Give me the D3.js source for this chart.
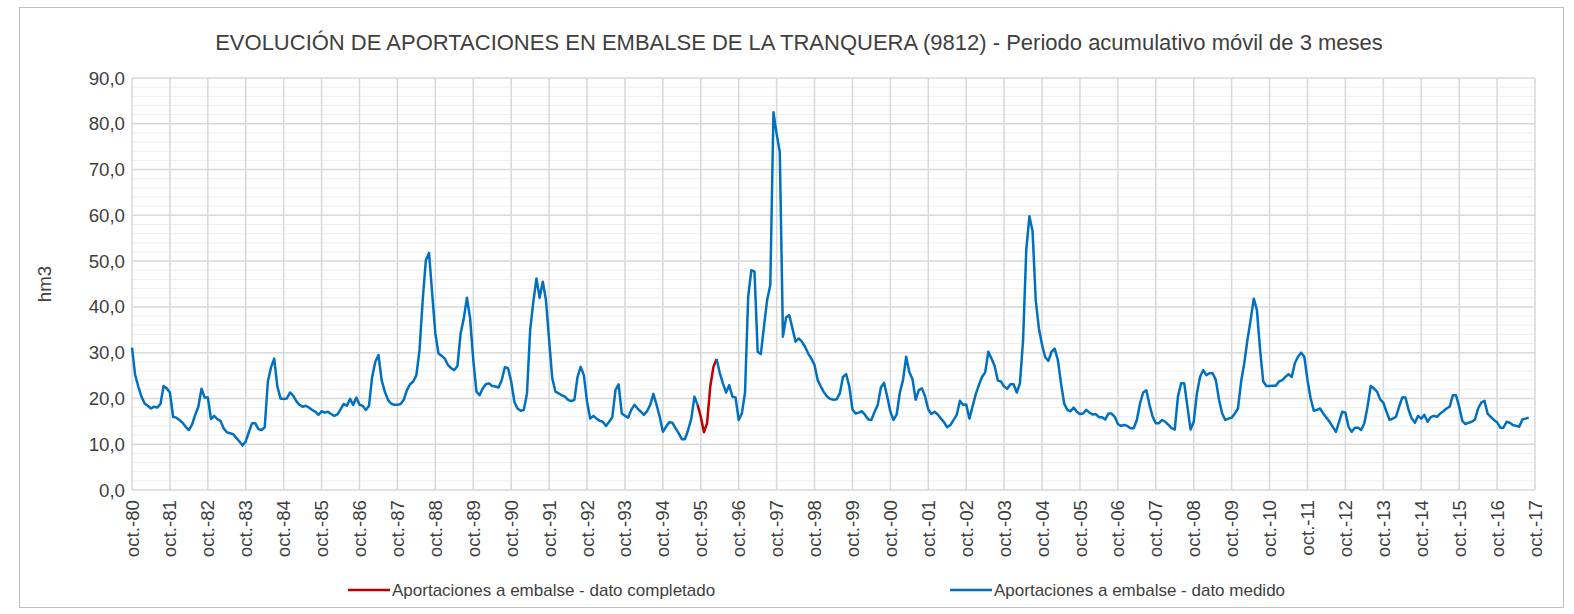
<!DOCTYPE html>
<html lang="es">
<head>
<meta charset="utf-8">
<title>Aportaciones embalse de La Tranquera</title>
<script type="text/javascript" src="https://cdnjs.cloudflare.com/ajax/libs/d3/7.8.5/d3.min.js"></script>
<style>
body { margin: 0; background: #fff; }
svg { display: block; font-family: Arial, "Liberation Sans", sans-serif; }
.grid-major line { stroke: #d9d9d9; stroke-width: 1.5; }
.grid-minor line { stroke: #eeeeee; stroke-width: 1; }
.axis text { fill: #404040; }
</style>
</head>
<body>
<div id="chart"></div>
<script type="text/javascript">

var titulo = "EVOLUCIÓN DE APORTACIONES EN EMBALSE DE LA TRANQUERA (9812) - Periodo acumulativo móvil de 3 meses";

// tick labels, one per hydrological year (every 12 months)
var etiquetasX = ["oct.-80","oct.-81","oct.-82","oct.-83","oct.-84","oct.-85","oct.-86","oct.-87",
    "oct.-88","oct.-89","oct.-90","oct.-91","oct.-92","oct.-93","oct.-94","oct.-95","oct.-96",
    "oct.-97","oct.-98","oct.-99","oct.-00","oct.-01","oct.-02","oct.-03","oct.-04","oct.-05",
    "oct.-06","oct.-07","oct.-08","oct.-09","oct.-10","oct.-11","oct.-12","oct.-13","oct.-14",
    "oct.-15","oct.-16","oct.-17"];

var ticksY = [0, 10, 20, 30, 40, 50, 60, 70, 80, 90];

// monthly values (hm3), from oct-80 onwards, one row per hydrological year
var aportaciones = [
    31.1, 25.1, 22.6, 20.4, 18.9, 18.4, 17.8, 18.2, 18.0, 18.8, 22.7, 22.2,
    21.3, 16.0, 15.8, 15.3, 14.7, 13.8, 13.1, 14.3, 16.4, 18.2, 22.1, 20.2,
    20.2, 15.5, 16.2, 15.5, 15.1, 13.5, 12.6, 12.4, 12.2, 11.4, 10.6, 9.7,
    10.6, 12.7, 14.6, 14.6, 13.3, 13.1, 13.7, 23.7, 26.8, 28.7, 22.6, 20.0,
    19.9, 20.0, 21.3, 20.6, 19.4, 18.6, 18.2, 18.4, 18.0, 17.5, 17.1, 16.4,
    17.2, 16.9, 17.1, 16.6, 16.2, 16.5, 17.6, 18.8, 18.4, 19.9, 18.6, 20.2,
    18.6, 18.4, 17.5, 18.4, 24.7, 28.0, 29.5, 24.0, 21.5, 19.7, 18.9, 18.6,
    18.6, 18.8, 19.7, 21.8, 23.1, 23.7, 25.1, 30.6, 41.5, 50.2, 51.8, 42.9,
    34.2, 29.8, 29.3, 28.7, 27.3, 26.6, 26.2, 27.1, 34.2, 37.5, 42.0, 37.5,
    28.4, 21.5, 20.7, 22.2, 23.1, 23.3, 22.7, 22.6, 22.4, 24.0, 26.8, 26.6,
    23.7, 19.3, 17.8, 17.3, 17.5, 21.1, 34.9, 41.1, 46.2, 42.0, 45.5, 41.5,
    32.8, 24.4, 21.5, 21.1, 20.7, 20.4, 19.7, 19.4, 19.7, 24.7, 26.9, 25.1,
    19.3, 15.6, 16.2, 15.6, 15.1, 14.9, 14.0, 14.9, 15.9, 21.8, 23.1, 16.7,
    16.2, 15.8, 17.5, 18.6, 17.8, 17.1, 16.4, 17.2, 18.6, 21.0, 18.6, 16.0,
    12.7, 13.8, 14.8, 14.7, 13.5, 12.4, 11.1, 11.1, 13.1, 15.6, 20.4, 18.6,
    16.0, 12.6, 14.6, 22.6, 26.9, 28.6, 25.6, 23.3, 21.3, 22.9, 20.4, 20.2,
    15.3, 16.7, 21.3, 42.2, 48.0, 47.7, 30.2, 29.7, 35.7, 41.5, 44.8, 82.5,
    77.8, 73.9, 33.5, 37.7, 38.2, 35.3, 32.4, 33.1, 32.4, 31.3, 29.8, 28.7,
    27.3, 24.0, 22.6, 21.3, 20.4, 19.9, 19.7, 19.8, 21.1, 24.7, 25.3, 22.6,
    17.6, 16.7, 16.9, 17.2, 16.4, 15.4, 15.3, 17.1, 18.6, 22.4, 23.4, 20.4,
    17.1, 15.3, 16.5, 21.3, 24.0, 29.1, 25.8, 24.2, 19.7, 21.8, 22.2, 20.4,
    17.6, 16.6, 17.1, 16.5, 15.6, 14.8, 13.7, 14.2, 15.3, 16.4, 19.5, 18.6,
    18.7, 15.6, 18.2, 20.9, 22.9, 24.7, 25.7, 30.2, 28.7, 27.1, 23.9, 23.7,
    22.6, 22.1, 23.1, 23.1, 21.3, 23.3, 32.8, 52.4, 59.8, 56.5, 41.5, 35.3,
    31.7, 29.0, 28.2, 30.2, 30.9, 28.4, 23.3, 18.9, 17.5, 17.2, 18.0, 17.1,
    16.6, 16.7, 17.5, 16.9, 16.5, 16.6, 15.9, 15.9, 15.4, 16.7, 16.7, 16.0,
    14.4, 14.0, 14.2, 14.0, 13.5, 13.5, 15.3, 18.9, 21.3, 21.8, 18.6, 16.0,
    14.6, 14.6, 15.3, 14.9, 14.2, 13.5, 13.2, 20.4, 23.3, 23.3, 18.2, 13.2,
    14.9, 21.1, 24.7, 26.2, 25.1, 25.5, 25.5, 24.0, 19.7, 16.7, 15.3, 15.6,
    15.8, 16.7, 17.8, 23.7, 27.7, 32.8, 37.1, 41.8, 39.3, 30.6, 23.7, 22.7,
    22.7, 22.8, 22.8, 23.7, 24.0, 24.7, 25.3, 24.7, 27.7, 29.1, 30.0, 29.1,
    24.0, 20.0, 17.3, 17.5, 17.8, 16.7, 15.8, 14.9, 13.8, 12.7, 14.9, 17.1,
    16.9, 13.8, 12.7, 13.6, 13.6, 13.1, 14.6, 18.2, 22.7, 22.2, 21.5, 19.8,
    19.1, 17.1, 15.3, 15.6, 16.0, 18.2, 20.2, 20.2, 17.5, 15.6, 14.7, 16.2,
    15.6, 16.4, 14.9, 15.9, 16.2, 16.0, 16.7, 17.2, 17.8, 18.2, 20.7, 20.7,
    18.2, 15.1, 14.4, 14.7, 14.9, 15.4, 17.8, 19.1, 19.5, 16.7, 16.0, 15.3,
    14.8, 13.6, 13.6, 14.9, 14.7, 14.2, 14.0, 13.8, 15.4, 15.6, 15.8
];

// months filled in ("dato completado"), the rest is measured
var completadoDesde = 179;
var completadoHasta = 185;

var series = [
    {nombre: "Aportaciones a embalse - dato completado", color: "#c00000"},
    {nombre: "Aportaciones a embalse - dato medido", color: "#0070c0"}
];

var width = 1574, height = 614;
var margin = {top: 78, right: 39, bottom: 124, left: 132};
var nMeses = (etiquetasX.length - 1) * 12;

var svg = d3.select("#chart").append("svg")
    .attr("width", width)
    .attr("height", height);

svg.append("rect")
    .attr("x", 19.5).attr("y", 7.5)
    .attr("width", 1544).attr("height", 600)
    .attr("fill", "#fff")
    .attr("stroke", "#bfbfbf");

var x = d3.scaleLinear()
    .domain([0, nMeses])
    .range([margin.left, width - margin.right]);

var y = d3.scaleLinear()
    .domain([0, 90])
    .range([height - margin.bottom, margin.top]);

// minor grid (every 2)
svg.append("g")
    .attr("class", "grid-minor")
    .selectAll("line")
    .data(d3.range(0, 91, 2).filter(function(d) { return d % 10 != 0; }))
    .enter().append("line")
        .attr("x1", x(0)).attr("x2", x(nMeses))
        .attr("y1", function(d) { return y(d); })
        .attr("y2", function(d) { return y(d); });

// major grid
var gridY = svg.append("g").attr("class", "grid-major");
gridY.selectAll("line.h")
    .data(ticksY)
    .enter().append("line")
        .attr("class", "h")
        .attr("x1", x(0)).attr("x2", x(nMeses))
        .attr("y1", function(d) { return y(d); })
        .attr("y2", function(d) { return y(d); });
gridY.selectAll("line.v")
    .data(etiquetasX)
    .enter().append("line")
        .attr("class", "v")
        .attr("x1", function(d, i) { return x(i * 12); })
        .attr("x2", function(d, i) { return x(i * 12); })
        .attr("y1", y(0)).attr("y2", y(90));

// y axis labels
svg.append("g")
    .attr("class", "axis")
    .selectAll("text")
    .data(ticksY)
    .enter().append("text")
        .attr("x", margin.left - 7)
        .attr("y", function(d) { return y(d); })
        .attr("dy", "0.35em")
        .attr("text-anchor", "end")
        .style("font-size", "18.7px")
        .text(function(d) { return d3.format(".1f")(d).replace(".", ","); });

// x axis labels, rotated
svg.append("g")
    .attr("class", "axis")
    .selectAll("text")
    .data(etiquetasX)
    .enter().append("text")
        .attr("transform", function(d, i) {
            return "translate(" + x(i * 12) + "," + (y(0) + 10) + ") rotate(-90)";
        })
        .attr("dy", "0.35em")
        .attr("text-anchor", "end")
        .style("font-size", "18.7px")
        .text(function(d) { return d; });

svg.append("text")
    .attr("transform", "translate(51," + ((y(0) + y(90)) / 2) + ") rotate(-90)")
    .attr("text-anchor", "middle")
    .style("font-size", "18.7px")
    .attr("fill", "#404040")
    .text("hm3");

svg.append("text")
    .attr("x", 799)
    .attr("y", 50)
    .attr("text-anchor", "middle")
    .style("font-size", "22px")
    .attr("fill", "#404040")
    .text(titulo);

// lines
var linea = d3.line()
    .x(function(d) { return x(d.i); })
    .y(function(d) { return y(d.v); });

var puntos = aportaciones.map(function(v, i) { return {i: i, v: v}; });

svg.append("path")
    .datum(puntos.filter(function(d) { return d.i >= completadoDesde && d.i <= completadoHasta; }))
    .attr("fill", "none")
    .attr("stroke", series[0].color)
    .attr("stroke-width", 2.5)
    .attr("stroke-linejoin", "round")
    .attr("d", linea);

svg.append("path")
    .datum(puntos)
    .attr("fill", "none")
    .attr("stroke", series[1].color)
    .attr("stroke-width", 2.5)
    .attr("stroke-linejoin", "round")
    .attr("d", linea.defined(function(d) { return d.i <= completadoDesde || d.i >= completadoHasta; }));

// legend
var leyendaX = [348, 950];
var leyenda = svg.append("g")
    .selectAll("g")
    .data(series)
    .enter().append("g")
        .attr("transform", function(d, i) { return "translate(" + leyendaX[i] + ",590)"; });
leyenda.append("line")
    .attr("x1", 0).attr("x2", 42)
    .attr("stroke", function(d) { return d.color; })
    .attr("stroke-width", 2.5);
leyenda.append("text")
    .attr("x", 44)
    .attr("dy", "0.35em")
    .style("font-size", "17px")
    .attr("fill", "#404040")
    .text(function(d) { return d.nombre; });

</script>
</body>
</html>
